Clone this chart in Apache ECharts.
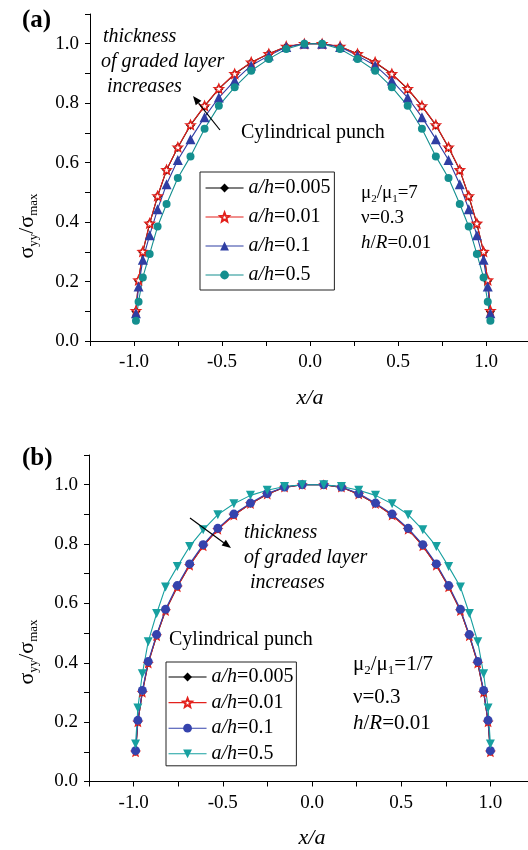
<!DOCTYPE html>
<html>
<head>
<meta charset="utf-8">
<script src="https://cdn.jsdelivr.net/npm/echarts@6.0.0/dist/echarts.min.js"></script>
<style>
  html, body { margin: 0; padding: 0; background: #fff; }
  #chart { width: 528px; height: 850px; }
</style>
</head>
<body>
<div id="chart"></div>
<script>
// ---------- DATA ----------
// Panel (a): mu2/mu1 = 7
const xA = [-0.989, -0.974, -0.950, -0.911, -0.866, -0.815, -0.751, -0.679, -0.599, -0.518,
            -0.428, -0.334, -0.234, -0.135, -0.032, 0.069, 0.171, 0.270, 0.370, 0.465,
            0.555, 0.636, 0.715, 0.787, 0.851, 0.902, 0.948, 0.986, 1.010, 1.025];
const yA_005 = [0.099, 0.203, 0.299, 0.395, 0.487, 0.575, 0.651, 0.726, 0.790, 0.848,
                0.898, 0.937, 0.966, 0.990, 1.000, 1.000, 0.990, 0.966, 0.937, 0.898,
                0.848, 0.790, 0.726, 0.651, 0.575, 0.487, 0.395, 0.299, 0.203, 0.099];
const yA_01  = [0.102, 0.205, 0.301, 0.396, 0.488, 0.576, 0.652, 0.727, 0.791, 0.849,
                0.899, 0.938, 0.966, 0.991, 1.000, 1.000, 0.991, 0.966, 0.938, 0.899,
                0.849, 0.791, 0.727, 0.652, 0.576, 0.488, 0.396, 0.301, 0.205, 0.102];
const yA_1   = [0.093, 0.183, 0.273, 0.356, 0.443, 0.527, 0.609, 0.679, 0.753, 0.819,
                0.876, 0.927, 0.960, 0.989, 1.000, 1.000, 0.989, 0.960, 0.927, 0.876,
                0.819, 0.753, 0.679, 0.609, 0.527, 0.443, 0.356, 0.273, 0.183, 0.093];
const yA_5   = [0.068, 0.132, 0.214, 0.293, 0.385, 0.461, 0.548, 0.621, 0.714, 0.791,
                0.854, 0.909, 0.949, 0.982, 1.000, 1.000, 0.982, 0.949, 0.909, 0.854,
                0.791, 0.714, 0.621, 0.548, 0.461, 0.385, 0.293, 0.214, 0.132, 0.068];

// Panel (b): mu2/mu1 = 1/7
const xB = [-0.989, -0.976, -0.951, -0.918, -0.871, -0.821, -0.755, -0.686, -0.610, -0.528,
            -0.438, -0.345, -0.251, -0.154, -0.055, 0.066, 0.165, 0.262, 0.356, 0.449,
            0.539, 0.621, 0.697, 0.766, 0.832, 0.882, 0.929, 0.962, 0.987, 1.000];
const yB_005 = [0.100, 0.201, 0.301, 0.399, 0.491, 0.576, 0.656, 0.729, 0.794, 0.850,
                0.898, 0.936, 0.968, 0.991, 1.000, 1.000, 0.991, 0.968, 0.936, 0.898,
                0.850, 0.794, 0.729, 0.656, 0.576, 0.491, 0.399, 0.301, 0.201, 0.100];
const yB_01  = [0.099, 0.200, 0.300, 0.398, 0.490, 0.575, 0.655, 0.728, 0.793, 0.849,
                0.897, 0.936, 0.968, 0.991, 1.000, 1.000, 0.991, 0.968, 0.936, 0.897,
                0.849, 0.793, 0.728, 0.655, 0.575, 0.490, 0.398, 0.300, 0.200, 0.099];
const yB_1   = [0.104, 0.206, 0.307, 0.404, 0.495, 0.580, 0.660, 0.733, 0.798, 0.853,
                0.901, 0.938, 0.970, 0.992, 1.000, 1.000, 0.992, 0.970, 0.938, 0.901,
                0.853, 0.798, 0.733, 0.660, 0.580, 0.495, 0.404, 0.307, 0.206, 0.104];
const yB_5   = [0.126, 0.248, 0.363, 0.471, 0.566, 0.655, 0.724, 0.792, 0.848, 0.899,
                0.936, 0.964, 0.981, 0.994, 1.000, 1.000, 0.994, 0.981, 0.964, 0.936,
                0.899, 0.848, 0.792, 0.724, 0.655, 0.566, 0.471, 0.363, 0.248, 0.126];

const legendValues = ['0.005', '0.01', '0.1', '0.5'];
const xTickMin = -1.25, xTickMax = 1.25, xTickStep = 0.25;
const yTickMin = 0, yTickMax = 1.1, yTickStep = 0.1;

// ---------- STYLE ----------
const FONT = '"Liberation Serif", "Times New Roman", serif';
const BLACK = '#000000', RED = '#e3211c', BLUE = '#2f3ea3', TEAL = '#148f8f', TEAL_B = '#17a0a0', BLUE_B = '#3543ad';
const STAR = 'path://M50 0 L62.93 32.2 L97.55 34.55 L70.92 56.8 L79.39 90.45 L50 72 L20.61 90.45 L29.08 56.8 L2.45 34.55 L37.07 32.2 Z';

function pairs(xs, ys) { return xs.map((x, i) => [x, ys[i]]); }

function mkSeries(name, gi, xs, ys, color, symbol, size, extra) {
  return Object.assign({
    name: name, type: 'line', xAxisIndex: gi, yAxisIndex: gi,
    data: pairs(xs, ys), symbol: symbol, symbolSize: size,
    showAllSymbol: true, clip: false,
    lineStyle: { color: color, width: 1.1 },
    itemStyle: { color: color },
    emphasis: { disabled: true }
  }, extra || {});
}

const series = [
  mkSeries('A0', 0, xA, yA_005, BLACK, 'diamond', 9),
  mkSeries('A1', 0, xA, yA_01, RED, STAR, 9, { symbolKeepAspect: true, itemStyle: { color: '#ffffff', borderColor: RED, borderWidth: 1.5 } }),
  mkSeries('A2', 0, xA, yA_1, BLUE, 'triangle', 10),
  mkSeries('A3', 0, xA, yA_5, TEAL, 'circle', 8),
  mkSeries('B0', 1, xB, yB_005, BLACK, 'diamond', 8),
  mkSeries('B1', 1, xB, yB_01, RED, STAR, 8, { symbolKeepAspect: true, itemStyle: { color: '#ffffff', borderColor: RED, borderWidth: 1.3 } }),
  mkSeries('B2', 1, xB, yB_1, BLUE_B, 'circle', 9),
  mkSeries('B3', 1, xB, yB_5, TEAL_B, 'triangle', 9, { symbolRotate: 180 })
];

function xFmt(v) {
  const k = Math.round(v * 100);
  return (k % 50 === 0) ? (k / 100).toFixed(1) : '';
}
function yFmt(v) {
  const k = Math.round(v * 10);
  return (k % 2 === 0) ? (k / 10).toFixed(1) : '';
}

function xAxis(gi) {
  return {
    type: 'value', gridIndex: gi, min: xTickMin, max: xTickMax, interval: xTickStep,
    axisLine: { show: true, onZero: false, lineStyle: { color: BLACK, width: 1 } },
    axisTick: { show: true, length: 5, lineStyle: { color: BLACK, width: 1 } },
    splitLine: { show: false },
    axisLabel: { formatter: xFmt, fontFamily: FONT, fontSize: 19, color: BLACK, margin: 12, hideOverlap: false },
    name: 'x/a', nameLocation: 'middle', nameGap: 46,
    nameTextStyle: { fontFamily: FONT, fontStyle: 'italic', fontSize: 22, color: BLACK }
  };
}
function yAxis(gi) {
  return {
    type: 'value', gridIndex: gi, min: yTickMin, max: yTickMax, interval: yTickStep,
    axisLine: { show: true, onZero: false, lineStyle: { color: BLACK, width: 1 } },
    axisTick: { show: true, length: 5, lineStyle: { color: BLACK, width: 1 } },
    splitLine: { show: false },
    axisLabel: { formatter: yFmt, fontFamily: FONT, fontSize: 19, color: BLACK, margin: 11, hideOverlap: false }
  };
}

const legendRich = {
  i: { fontFamily: FONT, fontStyle: 'italic', fontSize: 20, color: BLACK, lineHeight: 20 },
  n: { fontFamily: FONT, fontSize: 20, color: BLACK, lineHeight: 20 }
};
function legendFmt(name) {
  const idx = Number(name.slice(1));
  return '{i|a/h}{n|=' + legendValues[idx] + '}';
}
function legend(prefix, left, top, gap, pad) {
  return {
    data: [prefix + '0', prefix + '1', prefix + '2', prefix + '3'],
    orient: 'vertical', left: left, top: top, itemGap: gap, padding: pad,
    itemWidth: 38, itemHeight: 11, selectedMode: false,
    borderColor: '#222', borderWidth: 1, backgroundColor: '#fff',
    lineStyle: { width: 1.1 },
    formatter: legendFmt,
    textStyle: { fontFamily: FONT, fontSize: 20, color: BLACK, rich: legendRich }
  };
}

function txt(x, y, text, size, extra) {
  return {
    type: 'text', x: x, y: y, z: 100,
    style: Object.assign({ text: text, fontFamily: FONT, fontSize: size, fill: BLACK, align: 'left', verticalAlign: 'middle' }, extra || {})
  };
}
function richSub(size) {
  return {
    m: { fontFamily: FONT, fontSize: size, fill: BLACK, lineHeight: size + 5 },
    i: { fontFamily: FONT, fontStyle: 'italic', fontSize: size, fill: BLACK, lineHeight: size + 5 },
    s: { fontFamily: FONT, fontSize: Math.round(size * 0.6), fill: BLACK, verticalAlign: 'bottom', lineHeight: Math.round(size * 0.6) }
  };
}
function arrow(x1, y1, x2, y2) {
  const dx = x2 - x1, dy = y2 - y1, L = Math.sqrt(dx * dx + dy * dy);
  const ux = dx / L, uy = dy / L, hl = 9, hw = 3.6;
  const bx = x2 - ux * hl, by = y2 - uy * hl;
  return [
    { type: 'line', z: 100, shape: { x1: x1, y1: y1, x2: bx, y2: by }, style: { stroke: BLACK, lineWidth: 1.2 } },
    { type: 'polygon', z: 100, shape: { points: [[x2, y2], [bx - uy * hw, by + ux * hw], [bx + uy * hw, by - ux * hw]] }, style: { fill: BLACK } }
  ];
}

const yName = '{m|σ}{s|yy}{m|/σ}{s|max}';
const graphic = [].concat(
  [
    txt(22, 21, '(a)', 25, { fontWeight: 'bold' }),
    txt(22, 459, '(b)', 25, { fontWeight: 'bold' }),
    { type: 'text', x: 27, y: 226, rotation: Math.PI / 2, z: 100,
      style: { text: yName, rich: richSub(22), align: 'center', verticalAlign: 'middle', fontFamily: FONT, fontSize: 22, fill: BLACK } },
    { type: 'text', x: 27, y: 652, rotation: Math.PI / 2, z: 100,
      style: { text: yName, rich: richSub(22), align: 'center', verticalAlign: 'middle', fontFamily: FONT, fontSize: 22, fill: BLACK } },
    // panel (a) annotations
    txt(103, 37, 'thickness', 20, { fontStyle: 'italic' }),
    txt(101, 62, 'of graded layer', 20, { fontStyle: 'italic' }),
    txt(107, 87, 'increases', 20, { fontStyle: 'italic' }),
    txt(241, 133, 'Cylindrical punch', 20),
    txt(361, 193, '{m|μ}{s|2}{m|/μ}{s|1}{m|=7}', 19, { rich: richSub(19) }),
    txt(361, 218, 'ν=0.3', 19),
    txt(361, 243, '{i|h}{m|/}{i|R}{m|=0.01}', 19, { rich: richSub(19) }),
    // panel (b) annotations
    txt(244, 533, 'thickness', 20, { fontStyle: 'italic' }),
    txt(244, 558, 'of graded layer', 20, { fontStyle: 'italic' }),
    txt(250, 583, 'increases', 20, { fontStyle: 'italic' }),
    txt(169, 640, 'Cylindrical punch', 20),
    txt(353, 664, '{m|μ}{s|2}{m|/μ}{s|1}{m|=1/7}', 21, { rich: richSub(21) }),
    txt(353, 697, 'ν=0.3', 21),
    txt(353, 723, '{i|h}{m|/}{i|R}{m|=0.01}', 21, { rich: richSub(21) })
  ],
  arrow(220, 130, 193, 96),
  arrow(190, 518, 231, 548)
);

const option = {
  animation: false,
  backgroundColor: '#ffffff',
  grid: [
    { left: 90, top: 14, width: 440, height: 327, outerBoundsMode: 'none', containLabel: false },
    { left: 89, top: 455, width: 446, height: 326.5, outerBoundsMode: 'none', containLabel: false }
  ],
  xAxis: [xAxis(0), xAxis(1)],
  yAxis: [yAxis(0), yAxis(1)],
  legend: [
    legend('A', 200, 172, 9, [6, 4, 5, 5]),
    legend('B', 166, 662, 5.6, [5, 3, 2, 2])
  ],
  series: series,
  graphic: graphic
};

const chart = echarts.init(document.getElementById('chart'), null, { renderer: 'canvas' });
chart.setOption(option);
</script>
</body>
</html>
